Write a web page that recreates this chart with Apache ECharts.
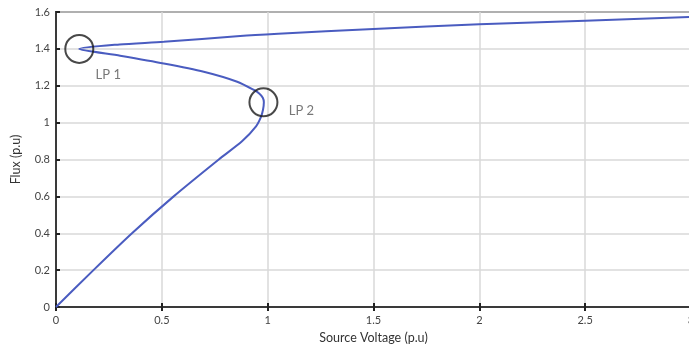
<!DOCTYPE html>
<html>
<head>
<meta charset="utf-8">
<script src="https://cdn.jsdelivr.net/npm/echarts@6/dist/echarts.min.js"></script>
<style>
  html, body { margin: 0; padding: 0; background: #fff; }
  #chart { width: 689px; height: 352px; }
</style>
</head>
<body>
<div id="chart"></div>
<script>
// curve, in drawing order: lower branch -> LP2 -> middle branch -> LP1 -> upper branch
const voltage = [0, 0.177, 0.359, 0.556, 0.769, 0.88, 0.945, 0.968, 0.978, 0.982,
  0.977, 0.96, 0.935, 0.856, 0.698, 0.509, 0.303, 0.11,
  0.3, 0.509, 0.87, 1.05, 1.5, 2.0, 2.5, 3.0];
const flux = [0, 0.2, 0.4, 0.6, 0.8, 0.9, 0.98, 1.03, 1.07, 1.11,
  1.135, 1.158, 1.177, 1.222, 1.276, 1.321, 1.363, 1.40,
  1.424, 1.438, 1.47, 1.482, 1.508, 1.533, 1.553, 1.573];

const markNames = ['LP 1', 'LP 2'];
const markVoltage = [0.11, 0.98];
const markFlux = [1.40, 1.11];

const xTicks = { min: 0, max: 3, interval: 0.5 };
const yTicks = { min: 0, max: 1.6, interval: 0.2 };

const FONT = 'Lato, "Open Sans", sans-serif';
const chart = echarts.init(document.getElementById('chart'));

const curve = voltage.map((v, i) => [v, flux[i]]);
const marks = markNames.map((n, i) => ({ name: n, value: [markVoltage[i], markFlux[i]] }));

chart.setOption({
  animation: false,
  grid: {
    left: 56, top: 12, right: -2, bottom: 45,
    outerBoundsMode: 'none',
    containLabel: false,
    show: true, borderColor: '#3a3a3a', borderWidth: 2
  },
  xAxis: [{
    type: 'value',
    ...xTicks,
    name: 'Source Voltage (p.u)',
    nameLocation: 'middle',
    nameGap: 24,
    nameTextStyle: { fontFamily: FONT, fontSize: 12.5, color: '#333' },
    axisLine: { show: true, onZero: false, lineStyle: { color: '#3a3a3a', width: 2 } },
    axisTick: { show: true, inside: true, length: 4, lineStyle: { color: '#222', width: 2 } },
    axisLabel: { fontFamily: FONT, fontSize: 11, color: '#444', margin: 8 },
    splitLine: { show: true, lineStyle: { color: '#d8d8d8', width: 1.5 } }
  }, {
    type: 'value',
    position: 'top',
    ...xTicks,
    axisLine: { show: false },
    axisTick: { show: true, inside: true, length: 4, lineStyle: { color: '#222', width: 2 } },
    axisLabel: { show: false },
    splitLine: { show: false }
  }],
  yAxis: {
    type: 'value',
    ...yTicks,
    name: 'Flux (p.u)',
    nameLocation: 'middle',
    nameGap: 34,
    nameTextStyle: { fontFamily: FONT, fontSize: 12.5, color: '#333' },
    axisLine: { show: true, lineStyle: { color: '#3a3a3a', width: 2 } },
    axisTick: { show: true, inside: true, length: 4, lineStyle: { color: '#222', width: 2 } },
    axisLabel: { fontFamily: FONT, fontSize: 11, color: '#444', margin: 6 },
    splitLine: { show: true, lineStyle: { color: '#d8d8d8', width: 1.5 } }
  },
  series: [{
    type: 'line',
    data: curve,
    smooth: 0.25,
    showSymbol: false,
    lineStyle: { color: '#4a5cc0', width: 2 },
    z: 3
  }, {
    type: 'scatter',
    data: marks,
    symbol: 'circle',
    symbolSize: 28,
    itemStyle: { color: 'rgba(0,0,0,0)', borderColor: '#1a1a1a', borderWidth: 2 },
    label: {
      show: true,
      formatter: '{b}',
      position: 'inside',
      fontFamily: FONT,
      fontSize: 13,
      color: '#555'
    },
    labelLayout: function (p) {
      return p.dataIndex === 0 ? { dx: 29, dy: 26 } : { dx: 38, dy: 8 };
    },
    z: 4
  }]
});
</script>
</body>
</html>
